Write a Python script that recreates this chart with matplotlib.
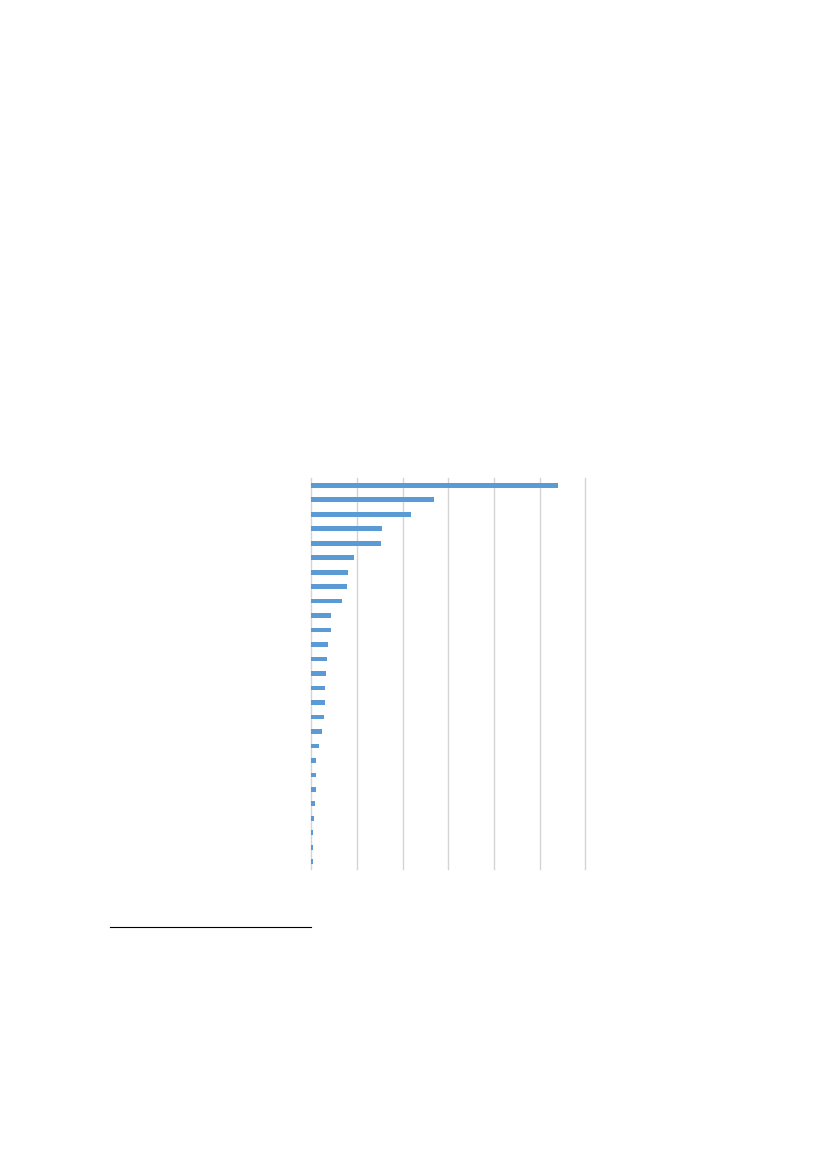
import matplotlib

matplotlib.use("Agg")
import matplotlib.pyplot as plt

# bar lengths, in gridline units (top bar first)
VALUES = [5.40, 2.69, 2.18, 1.55, 1.52, 0.93, 0.81, 0.78, 0.67, 0.43,
          0.43, 0.36, 0.34, 0.32, 0.31, 0.29, 0.28, 0.23, 0.17, 0.10,
          0.11, 0.10, 0.08, 0.06, 0.04, 0.04, 0.03]
CATEGORIES = list(range(len(VALUES)))
GRID_TICKS = [0, 1, 2, 3, 4, 5, 6]

BAR_COLOR = "#5B9BD5"
GRID_COLOR = "#D4D4D4"

fig = plt.figure(figsize=(8.27, 11.69), dpi=100)
ax = fig.add_axes([0.3764, 0.2566, 0.3313, 0.3345])

ax.barh(CATEGORIES, VALUES, height=0.33, color=BAR_COLOR, zorder=3)

ax.set_xlim(GRID_TICKS[0], GRID_TICKS[-1])
ax.set_ylim(len(VALUES) - 0.5, -0.5)
for x in GRID_TICKS:
    ax.axvline(x, color=GRID_COLOR, lw=1.0, zorder=1, clip_on=False)

for s in ax.spines.values():
    s.set_visible(False)
ax.set_xticks([])
ax.set_yticks([])

# footnote separator line
fig.add_artist(plt.Line2D([110 / 827, 311 / 827], [1 - 927 / 1169] * 2,
                          color="black", lw=0.8))

fig.savefig("out.png", dpi=100)
